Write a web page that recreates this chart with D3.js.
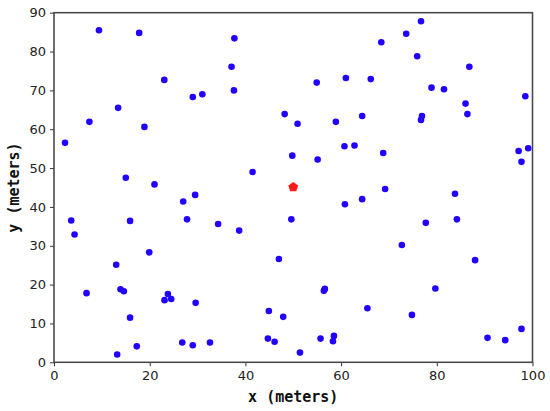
<!DOCTYPE html>
<html><head><meta charset="utf-8">
<script src="https://cdn.jsdelivr.net/npm/d3@7"></script>
<style>body{margin:0;background:#fff;} svg{display:block;}</style>
</head><body>
<svg id="chart" width="550" height="411"></svg>
<script>
const xs = [9.4,17.8,23.05,29.0,13.4,7.4,18.9,37.7,37.1,37.6,31.0,54.9,61.0,66.2,48.2,50.9,58.9,64.4,76.7,73.6,68.4,75.9,86.8,78.9,81.5,98.5,86.0,76.9,76.7,86.4,2.3,15.0,21.0,29.5,27.0,27.8,3.6,15.9,4.3,19.9,13.0,49.8,55.1,60.7,62.8,41.5,60.8,64.4,34.3,38.7,49.6,47.0,68.8,69.2,83.8,84.2,77.7,72.7,88.0,97.1,99.1,97.7,6.8,13.9,14.6,23.8,23.1,24.5,29.6,15.9,26.8,29.0,17.3,13.2,56.6,56.4,44.9,47.9,65.5,32.6,44.7,46.1,55.7,58.5,58.3,51.4,79.7,74.8,90.6,94.3,97.7];
const ys = [85.5,84.8,72.7,68.3,65.5,61.9,60.6,83.4,76.1,70.0,69.0,72.0,73.2,72.9,63.9,61.4,61.9,63.4,87.8,84.6,82.4,78.8,76.1,70.7,70.3,68.5,66.6,63.4,62.4,63.9,56.5,47.5,45.8,43.1,41.4,36.8,36.5,36.4,32.9,28.3,25.1,53.2,52.2,55.6,55.8,49.0,40.7,42.0,35.6,33.9,36.8,26.6,53.9,44.6,43.4,36.8,35.9,30.2,26.3,54.4,55.1,51.6,17.8,18.8,18.3,17.6,16.0,16.3,15.3,11.5,5.1,4.4,4.1,2.0,18.9,18.4,13.2,11.7,13.9,5.1,6.1,5.3,6.1,6.8,5.4,2.5,19.0,12.2,6.3,5.7,8.6];
const centerX = [50.0];
const centerY = [45.1];
const xTicks = [0,20,40,60,80,100];
const yTicks = [0,10,20,30,40,50,60,70,80,90];
const xLabel = "x (meters)";
const yLabel = "y (meters)";

const svg = d3.select("#chart");
const L = 54, R = 532.5, T = 12.7, B = 362.3;
const x = d3.scaleLinear().domain([0,100]).range([L,R]);
const y = d3.scaleLinear().domain([0,90]).range([B,T]);

const gx = svg.append("g").attr("transform",`translate(0,${B})`)
  .call(d3.axisBottom(x).tickValues(xTicks).tickSize(4).tickPadding(4));
const gy = svg.append("g").attr("transform",`translate(${L},0)`)
  .call(d3.axisLeft(y).tickValues(yTicks).tickSize(4).tickPadding(4));
[gx,gy].forEach(g=>{
  g.select(".domain").remove();
  g.selectAll(".tick line").attr("stroke","#333").attr("stroke-width",1);
  g.selectAll(".tick text").attr("font-family","DejaVu Sans").attr("font-size",13).attr("fill","#222");
});

// frame
svg.append("rect").attr("x",L).attr("y",T).attr("width",R-L).attr("height",B-T)
  .attr("fill","none").attr("stroke","#4a4a4a").attr("stroke-width",1.6);

const pts = xs.map((v,i)=>({x:v,y:ys[i]}));
svg.append("g").selectAll("circle").data(pts).join("circle")
  .attr("cx",d=>x(d.x)).attr("cy",d=>y(d.y)).attr("r",3.3).attr("fill","#2200ff");

const pent = d3.symbol().type(d3.symbolStar).size(0);
svg.append("g").selectAll("path").data(centerX.map((v,i)=>({x:v,y:centerY[i]}))).join("path")
  .attr("transform",d=>`translate(${x(d.x)},${y(d.y)})`)
  .attr("d",()=>{
    const r=5.2; let p=[];
    for(let k=0;k<5;k++){const a=-Math.PI/2+k*2*Math.PI/5; p.push([r*Math.cos(a),r*Math.sin(a)]);}
    return "M"+p.map(q=>q.join(",")).join("L")+"Z";
  })
  .attr("fill","#ff1a1a");

svg.append("text").attr("x",(L+R)/2).attr("y",402).attr("text-anchor","middle")
  .attr("font-family","DejaVu Sans Mono").attr("font-weight","bold").attr("font-size",15)
  .attr("fill","#111").text(xLabel);
svg.append("text").attr("transform",`translate(19,${(T+B)/2}) rotate(-90)`).attr("text-anchor","middle")
  .attr("font-family","DejaVu Sans Mono").attr("font-weight","bold").attr("font-size",15)
  .attr("fill","#111").text(yLabel);
</script>
</body></html>
